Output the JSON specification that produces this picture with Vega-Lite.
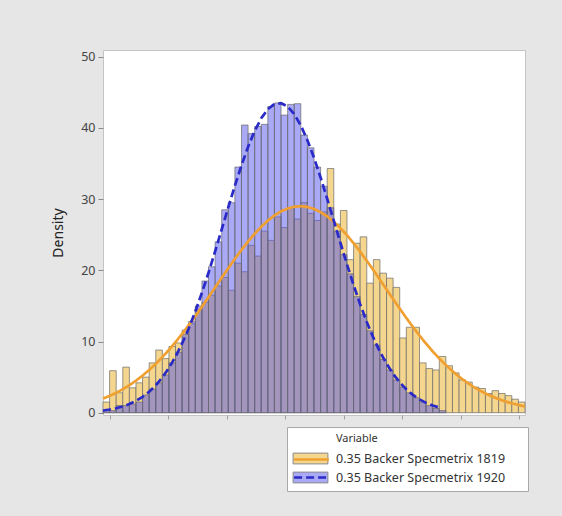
{
  "$schema": "https://vega.github.io/schema/vega-lite/v6.json",
  "autosize": {"type": "none"},
  "padding": {"left": 103, "top": 50, "right": 37, "bottom": 101},
  "width": 422,
  "height": 365,
  "background": "#e6e6e6",
  "config": {
    "view": {"fill": "white", "stroke": "#c4c4c4", "strokeWidth": 1},
    "font": "Noto Sans",
    "axis": {"grid": false}
  },
  "datasets": {
    "bars": [
      {"s": "0.35 Backer Specmetrix 1819", "lo": 0, "hi": 1, "h": 1.5},
      {"s": "0.35 Backer Specmetrix 1819", "lo": 1, "hi": 2, "h": 5.9},
      {"s": "0.35 Backer Specmetrix 1819", "lo": 2, "hi": 3, "h": 2.8},
      {"s": "0.35 Backer Specmetrix 1819", "lo": 3, "hi": 4, "h": 6.4},
      {"s": "0.35 Backer Specmetrix 1819", "lo": 4, "hi": 5, "h": 3.5},
      {"s": "0.35 Backer Specmetrix 1819", "lo": 5, "hi": 6, "h": 4.2},
      {"s": "0.35 Backer Specmetrix 1819", "lo": 6, "hi": 7, "h": 5.0},
      {"s": "0.35 Backer Specmetrix 1819", "lo": 7, "hi": 8, "h": 7.0},
      {"s": "0.35 Backer Specmetrix 1819", "lo": 8, "hi": 9, "h": 8.8},
      {"s": "0.35 Backer Specmetrix 1819", "lo": 9, "hi": 10, "h": 7.6},
      {"s": "0.35 Backer Specmetrix 1819", "lo": 10, "hi": 11, "h": 9.3},
      {"s": "0.35 Backer Specmetrix 1819", "lo": 11, "hi": 12, "h": 9.8},
      {"s": "0.35 Backer Specmetrix 1819", "lo": 12, "hi": 13, "h": 11.6},
      {"s": "0.35 Backer Specmetrix 1819", "lo": 13, "hi": 14, "h": 12.5},
      {"s": "0.35 Backer Specmetrix 1819", "lo": 14, "hi": 15, "h": 14.5},
      {"s": "0.35 Backer Specmetrix 1819", "lo": 15, "hi": 16, "h": 15.5},
      {"s": "0.35 Backer Specmetrix 1819", "lo": 16, "hi": 17, "h": 16.5},
      {"s": "0.35 Backer Specmetrix 1819", "lo": 17, "hi": 18, "h": 17.8},
      {"s": "0.35 Backer Specmetrix 1819", "lo": 18, "hi": 19, "h": 19.0},
      {"s": "0.35 Backer Specmetrix 1819", "lo": 19, "hi": 20, "h": 17.2},
      {"s": "0.35 Backer Specmetrix 1819", "lo": 20, "hi": 21, "h": 21.0},
      {"s": "0.35 Backer Specmetrix 1819", "lo": 21, "hi": 22, "h": 19.8},
      {"s": "0.35 Backer Specmetrix 1819", "lo": 22, "hi": 23, "h": 23.5},
      {"s": "0.35 Backer Specmetrix 1819", "lo": 23, "hi": 24, "h": 22.0},
      {"s": "0.35 Backer Specmetrix 1819", "lo": 24, "hi": 25, "h": 25.5},
      {"s": "0.35 Backer Specmetrix 1819", "lo": 25, "hi": 26, "h": 24.2},
      {"s": "0.35 Backer Specmetrix 1819", "lo": 26, "hi": 27, "h": 27.5},
      {"s": "0.35 Backer Specmetrix 1819", "lo": 27, "hi": 28, "h": 26.0},
      {"s": "0.35 Backer Specmetrix 1819", "lo": 28, "hi": 29, "h": 28.8},
      {"s": "0.35 Backer Specmetrix 1819", "lo": 29, "hi": 30, "h": 27.2},
      {"s": "0.35 Backer Specmetrix 1819", "lo": 30, "hi": 31, "h": 29.5},
      {"s": "0.35 Backer Specmetrix 1819", "lo": 31, "hi": 32, "h": 28.0},
      {"s": "0.35 Backer Specmetrix 1819", "lo": 32, "hi": 33, "h": 27.0},
      {"s": "0.35 Backer Specmetrix 1819", "lo": 33, "hi": 34, "h": 28.2},
      {"s": "0.35 Backer Specmetrix 1819", "lo": 34, "hi": 35, "h": 34.3},
      {"s": "0.35 Backer Specmetrix 1819", "lo": 35, "hi": 36, "h": 26.5},
      {"s": "0.35 Backer Specmetrix 1819", "lo": 36, "hi": 37, "h": 28.4},
      {"s": "0.35 Backer Specmetrix 1819", "lo": 37, "hi": 38, "h": 21.5},
      {"s": "0.35 Backer Specmetrix 1819", "lo": 38, "hi": 39, "h": 23.8},
      {"s": "0.35 Backer Specmetrix 1819", "lo": 39, "hi": 40, "h": 24.7},
      {"s": "0.35 Backer Specmetrix 1819", "lo": 40, "hi": 41, "h": 18.2},
      {"s": "0.35 Backer Specmetrix 1819", "lo": 41, "hi": 42, "h": 21.5},
      {"s": "0.35 Backer Specmetrix 1819", "lo": 42, "hi": 43, "h": 19.6},
      {"s": "0.35 Backer Specmetrix 1819", "lo": 43, "hi": 44, "h": 18.9},
      {"s": "0.35 Backer Specmetrix 1819", "lo": 44, "hi": 45, "h": 17.6},
      {"s": "0.35 Backer Specmetrix 1819", "lo": 45, "hi": 46, "h": 10.5},
      {"s": "0.35 Backer Specmetrix 1819", "lo": 46, "hi": 47, "h": 12.0},
      {"s": "0.35 Backer Specmetrix 1819", "lo": 47, "hi": 48, "h": 12.0},
      {"s": "0.35 Backer Specmetrix 1819", "lo": 48, "hi": 49, "h": 7.0},
      {"s": "0.35 Backer Specmetrix 1819", "lo": 49, "hi": 50, "h": 6.2},
      {"s": "0.35 Backer Specmetrix 1819", "lo": 50, "hi": 51, "h": 6.0},
      {"s": "0.35 Backer Specmetrix 1819", "lo": 51, "hi": 52, "h": 7.9},
      {"s": "0.35 Backer Specmetrix 1819", "lo": 52, "hi": 53, "h": 6.6},
      {"s": "0.35 Backer Specmetrix 1819", "lo": 53, "hi": 54, "h": 5.6},
      {"s": "0.35 Backer Specmetrix 1819", "lo": 54, "hi": 55, "h": 4.6},
      {"s": "0.35 Backer Specmetrix 1819", "lo": 55, "hi": 56, "h": 4.3},
      {"s": "0.35 Backer Specmetrix 1819", "lo": 56, "hi": 57, "h": 3.6},
      {"s": "0.35 Backer Specmetrix 1819", "lo": 57, "hi": 58, "h": 3.4},
      {"s": "0.35 Backer Specmetrix 1819", "lo": 58, "hi": 59, "h": 2.7},
      {"s": "0.35 Backer Specmetrix 1819", "lo": 59, "hi": 60, "h": 3.1},
      {"s": "0.35 Backer Specmetrix 1819", "lo": 60, "hi": 61, "h": 2.7},
      {"s": "0.35 Backer Specmetrix 1819", "lo": 61, "hi": 62, "h": 2.4},
      {"s": "0.35 Backer Specmetrix 1819", "lo": 62, "hi": 63, "h": 1.9},
      {"s": "0.35 Backer Specmetrix 1819", "lo": 63, "hi": 64, "h": 1.5},
      {"s": "0.35 Backer Specmetrix 1920", "lo": 0, "hi": 1, "h": 0.3},
      {"s": "0.35 Backer Specmetrix 1920", "lo": 1, "hi": 2, "h": 0.3},
      {"s": "0.35 Backer Specmetrix 1920", "lo": 2, "hi": 3, "h": 1.0},
      {"s": "0.35 Backer Specmetrix 1920", "lo": 3, "hi": 4, "h": 1.0},
      {"s": "0.35 Backer Specmetrix 1920", "lo": 4, "hi": 5, "h": 1.2},
      {"s": "0.35 Backer Specmetrix 1920", "lo": 5, "hi": 6, "h": 1.5},
      {"s": "0.35 Backer Specmetrix 1920", "lo": 6, "hi": 7, "h": 2.5},
      {"s": "0.35 Backer Specmetrix 1920", "lo": 7, "hi": 8, "h": 3.3},
      {"s": "0.35 Backer Specmetrix 1920", "lo": 8, "hi": 9, "h": 4.2},
      {"s": "0.35 Backer Specmetrix 1920", "lo": 9, "hi": 10, "h": 5.3},
      {"s": "0.35 Backer Specmetrix 1920", "lo": 10, "hi": 11, "h": 7.0},
      {"s": "0.35 Backer Specmetrix 1920", "lo": 11, "hi": 12, "h": 8.5},
      {"s": "0.35 Backer Specmetrix 1920", "lo": 12, "hi": 13, "h": 11.0},
      {"s": "0.35 Backer Specmetrix 1920", "lo": 13, "hi": 14, "h": 12.8},
      {"s": "0.35 Backer Specmetrix 1920", "lo": 14, "hi": 15, "h": 15.0},
      {"s": "0.35 Backer Specmetrix 1920", "lo": 15, "hi": 16, "h": 18.5},
      {"s": "0.35 Backer Specmetrix 1920", "lo": 16, "hi": 17, "h": 20.5},
      {"s": "0.35 Backer Specmetrix 1920", "lo": 17, "hi": 18, "h": 24.0},
      {"s": "0.35 Backer Specmetrix 1920", "lo": 18, "hi": 19, "h": 28.5},
      {"s": "0.35 Backer Specmetrix 1920", "lo": 19, "hi": 20, "h": 29.5},
      {"s": "0.35 Backer Specmetrix 1920", "lo": 20, "hi": 21, "h": 34.5},
      {"s": "0.35 Backer Specmetrix 1920", "lo": 21, "hi": 22, "h": 40.4},
      {"s": "0.35 Backer Specmetrix 1920", "lo": 22, "hi": 23, "h": 39.2},
      {"s": "0.35 Backer Specmetrix 1920", "lo": 23, "hi": 24, "h": 40.2},
      {"s": "0.35 Backer Specmetrix 1920", "lo": 24, "hi": 25, "h": 40.5},
      {"s": "0.35 Backer Specmetrix 1920", "lo": 25, "hi": 26, "h": 43.0},
      {"s": "0.35 Backer Specmetrix 1920", "lo": 26, "hi": 27, "h": 43.5},
      {"s": "0.35 Backer Specmetrix 1920", "lo": 27, "hi": 28, "h": 41.8},
      {"s": "0.35 Backer Specmetrix 1920", "lo": 28, "hi": 29, "h": 43.3},
      {"s": "0.35 Backer Specmetrix 1920", "lo": 29, "hi": 30, "h": 43.4},
      {"s": "0.35 Backer Specmetrix 1920", "lo": 30, "hi": 31, "h": 39.0},
      {"s": "0.35 Backer Specmetrix 1920", "lo": 31, "hi": 32, "h": 37.2},
      {"s": "0.35 Backer Specmetrix 1920", "lo": 32, "hi": 33, "h": 34.5},
      {"s": "0.35 Backer Specmetrix 1920", "lo": 33, "hi": 34, "h": 31.8},
      {"s": "0.35 Backer Specmetrix 1920", "lo": 34, "hi": 35, "h": 28.8},
      {"s": "0.35 Backer Specmetrix 1920", "lo": 35, "hi": 36, "h": 25.5},
      {"s": "0.35 Backer Specmetrix 1920", "lo": 36, "hi": 37, "h": 22.2},
      {"s": "0.35 Backer Specmetrix 1920", "lo": 37, "hi": 38, "h": 19.5},
      {"s": "0.35 Backer Specmetrix 1920", "lo": 38, "hi": 39, "h": 16.3},
      {"s": "0.35 Backer Specmetrix 1920", "lo": 39, "hi": 40, "h": 13.8},
      {"s": "0.35 Backer Specmetrix 1920", "lo": 40, "hi": 41, "h": 11.5},
      {"s": "0.35 Backer Specmetrix 1920", "lo": 41, "hi": 42, "h": 9.5},
      {"s": "0.35 Backer Specmetrix 1920", "lo": 42, "hi": 43, "h": 7.5},
      {"s": "0.35 Backer Specmetrix 1920", "lo": 43, "hi": 44, "h": 6.0},
      {"s": "0.35 Backer Specmetrix 1920", "lo": 44, "hi": 45, "h": 4.6},
      {"s": "0.35 Backer Specmetrix 1920", "lo": 45, "hi": 46, "h": 3.6},
      {"s": "0.35 Backer Specmetrix 1920", "lo": 46, "hi": 47, "h": 2.8},
      {"s": "0.35 Backer Specmetrix 1920", "lo": 47, "hi": 48, "h": 2.1},
      {"s": "0.35 Backer Specmetrix 1920", "lo": 48, "hi": 49, "h": 1.5},
      {"s": "0.35 Backer Specmetrix 1920", "lo": 49, "hi": 50, "h": 1.0},
      {"s": "0.35 Backer Specmetrix 1920", "lo": 50, "hi": 51, "h": 0.6},
      {"s": "0.35 Backer Specmetrix 1920", "lo": 51, "hi": 52, "h": 0.3}
    ],
    "curves": [
      {"s": "0.35 Backer Specmetrix 1819", "x": 0, "y": 1.98},
      {"s": "0.35 Backer Specmetrix 1819", "x": 1, "y": 2.36},
      {"s": "0.35 Backer Specmetrix 1819", "x": 2, "y": 2.80},
      {"s": "0.35 Backer Specmetrix 1819", "x": 3, "y": 3.30},
      {"s": "0.35 Backer Specmetrix 1819", "x": 4, "y": 3.86},
      {"s": "0.35 Backer Specmetrix 1819", "x": 5, "y": 4.50},
      {"s": "0.35 Backer Specmetrix 1819", "x": 6, "y": 5.21},
      {"s": "0.35 Backer Specmetrix 1819", "x": 7, "y": 6.00},
      {"s": "0.35 Backer Specmetrix 1819", "x": 8, "y": 6.86},
      {"s": "0.35 Backer Specmetrix 1819", "x": 9, "y": 7.81},
      {"s": "0.35 Backer Specmetrix 1819", "x": 10, "y": 8.82},
      {"s": "0.35 Backer Specmetrix 1819", "x": 11, "y": 9.92},
      {"s": "0.35 Backer Specmetrix 1819", "x": 12, "y": 11.07},
      {"s": "0.35 Backer Specmetrix 1819", "x": 13, "y": 12.30},
      {"s": "0.35 Backer Specmetrix 1819", "x": 14, "y": 13.56},
      {"s": "0.35 Backer Specmetrix 1819", "x": 15, "y": 14.88},
      {"s": "0.35 Backer Specmetrix 1819", "x": 16, "y": 16.22},
      {"s": "0.35 Backer Specmetrix 1819", "x": 17, "y": 17.59},
      {"s": "0.35 Backer Specmetrix 1819", "x": 18, "y": 18.96},
      {"s": "0.35 Backer Specmetrix 1819", "x": 19, "y": 20.29},
      {"s": "0.35 Backer Specmetrix 1819", "x": 20, "y": 21.61},
      {"s": "0.35 Backer Specmetrix 1819", "x": 21, "y": 22.86},
      {"s": "0.35 Backer Specmetrix 1819", "x": 22, "y": 24.05},
      {"s": "0.35 Backer Specmetrix 1819", "x": 23, "y": 25.13},
      {"s": "0.35 Backer Specmetrix 1819", "x": 24, "y": 26.11},
      {"s": "0.35 Backer Specmetrix 1819", "x": 25, "y": 26.98},
      {"s": "0.35 Backer Specmetrix 1819", "x": 26, "y": 27.70},
      {"s": "0.35 Backer Specmetrix 1819", "x": 27, "y": 28.28},
      {"s": "0.35 Backer Specmetrix 1819", "x": 28, "y": 28.68},
      {"s": "0.35 Backer Specmetrix 1819", "x": 29, "y": 28.93},
      {"s": "0.35 Backer Specmetrix 1819", "x": 30, "y": 29.00},
      {"s": "0.35 Backer Specmetrix 1819", "x": 31, "y": 28.90},
      {"s": "0.35 Backer Specmetrix 1819", "x": 32, "y": 28.62},
      {"s": "0.35 Backer Specmetrix 1819", "x": 33, "y": 28.17},
      {"s": "0.35 Backer Specmetrix 1819", "x": 34, "y": 27.57},
      {"s": "0.35 Backer Specmetrix 1819", "x": 35, "y": 26.82},
      {"s": "0.35 Backer Specmetrix 1819", "x": 36, "y": 25.93},
      {"s": "0.35 Backer Specmetrix 1819", "x": 37, "y": 24.93},
      {"s": "0.35 Backer Specmetrix 1819", "x": 38, "y": 23.81},
      {"s": "0.35 Backer Specmetrix 1819", "x": 39, "y": 22.61},
      {"s": "0.35 Backer Specmetrix 1819", "x": 40, "y": 21.35},
      {"s": "0.35 Backer Specmetrix 1819", "x": 41, "y": 20.03},
      {"s": "0.35 Backer Specmetrix 1819", "x": 42, "y": 18.68},
      {"s": "0.35 Backer Specmetrix 1819", "x": 43, "y": 17.32},
      {"s": "0.35 Backer Specmetrix 1819", "x": 44, "y": 15.96},
      {"s": "0.35 Backer Specmetrix 1819", "x": 45, "y": 14.62},
      {"s": "0.35 Backer Specmetrix 1819", "x": 46, "y": 13.31},
      {"s": "0.35 Backer Specmetrix 1819", "x": 47, "y": 12.05},
      {"s": "0.35 Backer Specmetrix 1819", "x": 48, "y": 10.84},
      {"s": "0.35 Backer Specmetrix 1819", "x": 49, "y": 9.69},
      {"s": "0.35 Backer Specmetrix 1819", "x": 50, "y": 8.61},
      {"s": "0.35 Backer Specmetrix 1819", "x": 51, "y": 7.61},
      {"s": "0.35 Backer Specmetrix 1819", "x": 52, "y": 6.69},
      {"s": "0.35 Backer Specmetrix 1819", "x": 53, "y": 5.84},
      {"s": "0.35 Backer Specmetrix 1819", "x": 54, "y": 5.06},
      {"s": "0.35 Backer Specmetrix 1819", "x": 55, "y": 4.37},
      {"s": "0.35 Backer Specmetrix 1819", "x": 56, "y": 3.74},
      {"s": "0.35 Backer Specmetrix 1819", "x": 57, "y": 3.19},
      {"s": "0.35 Backer Specmetrix 1819", "x": 58, "y": 2.71},
      {"s": "0.35 Backer Specmetrix 1819", "x": 59, "y": 2.28},
      {"s": "0.35 Backer Specmetrix 1819", "x": 60, "y": 1.91},
      {"s": "0.35 Backer Specmetrix 1819", "x": 61, "y": 1.59},
      {"s": "0.35 Backer Specmetrix 1819", "x": 62, "y": 1.31},
      {"s": "0.35 Backer Specmetrix 1819", "x": 63, "y": 1.08},
      {"s": "0.35 Backer Specmetrix 1819", "x": 64, "y": 0.88},
      {"s": "0.35 Backer Specmetrix 1920", "x": 0, "y": 0.31},
      {"s": "0.35 Backer Specmetrix 1920", "x": 1, "y": 0.45},
      {"s": "0.35 Backer Specmetrix 1920", "x": 2, "y": 0.63},
      {"s": "0.35 Backer Specmetrix 1920", "x": 3, "y": 0.88},
      {"s": "0.35 Backer Specmetrix 1920", "x": 4, "y": 1.22},
      {"s": "0.35 Backer Specmetrix 1920", "x": 5, "y": 1.66},
      {"s": "0.35 Backer Specmetrix 1920", "x": 6, "y": 2.23},
      {"s": "0.35 Backer Specmetrix 1920", "x": 7, "y": 2.95},
      {"s": "0.35 Backer Specmetrix 1920", "x": 8, "y": 3.84},
      {"s": "0.35 Backer Specmetrix 1920", "x": 9, "y": 4.95},
      {"s": "0.35 Backer Specmetrix 1920", "x": 10, "y": 6.28},
      {"s": "0.35 Backer Specmetrix 1920", "x": 11, "y": 7.87},
      {"s": "0.35 Backer Specmetrix 1920", "x": 12, "y": 9.73},
      {"s": "0.35 Backer Specmetrix 1920", "x": 13, "y": 11.83},
      {"s": "0.35 Backer Specmetrix 1920", "x": 14, "y": 14.21},
      {"s": "0.35 Backer Specmetrix 1920", "x": 15, "y": 16.84},
      {"s": "0.35 Backer Specmetrix 1920", "x": 16, "y": 19.66},
      {"s": "0.35 Backer Specmetrix 1920", "x": 17, "y": 22.64},
      {"s": "0.35 Backer Specmetrix 1920", "x": 18, "y": 25.73},
      {"s": "0.35 Backer Specmetrix 1920", "x": 19, "y": 28.84},
      {"s": "0.35 Backer Specmetrix 1920", "x": 20, "y": 31.87},
      {"s": "0.35 Backer Specmetrix 1920", "x": 21, "y": 34.73},
      {"s": "0.35 Backer Specmetrix 1920", "x": 22, "y": 37.33},
      {"s": "0.35 Backer Specmetrix 1920", "x": 23, "y": 39.56},
      {"s": "0.35 Backer Specmetrix 1920", "x": 24, "y": 41.35},
      {"s": "0.35 Backer Specmetrix 1920", "x": 25, "y": 42.64},
      {"s": "0.35 Backer Specmetrix 1920", "x": 26, "y": 43.35},
      {"s": "0.35 Backer Specmetrix 1920", "x": 27, "y": 43.47},
      {"s": "0.35 Backer Specmetrix 1920", "x": 28, "y": 43.00},
      {"s": "0.35 Backer Specmetrix 1920", "x": 29, "y": 41.93},
      {"s": "0.35 Backer Specmetrix 1920", "x": 30, "y": 40.34},
      {"s": "0.35 Backer Specmetrix 1920", "x": 31, "y": 38.27},
      {"s": "0.35 Backer Specmetrix 1920", "x": 32, "y": 35.80},
      {"s": "0.35 Backer Specmetrix 1920", "x": 33, "y": 33.03},
      {"s": "0.35 Backer Specmetrix 1920", "x": 34, "y": 30.05},
      {"s": "0.35 Backer Specmetrix 1920", "x": 35, "y": 26.97},
      {"s": "0.35 Backer Specmetrix 1920", "x": 36, "y": 23.87},
      {"s": "0.35 Backer Specmetrix 1920", "x": 37, "y": 20.84},
      {"s": "0.35 Backer Specmetrix 1920", "x": 38, "y": 17.94},
      {"s": "0.35 Backer Specmetrix 1920", "x": 39, "y": 15.23},
      {"s": "0.35 Backer Specmetrix 1920", "x": 40, "y": 12.75},
      {"s": "0.35 Backer Specmetrix 1920", "x": 41, "y": 10.54},
      {"s": "0.35 Backer Specmetrix 1920", "x": 42, "y": 8.57},
      {"s": "0.35 Backer Specmetrix 1920", "x": 43, "y": 6.89},
      {"s": "0.35 Backer Specmetrix 1920", "x": 44, "y": 5.45},
      {"s": "0.35 Backer Specmetrix 1920", "x": 45, "y": 4.26},
      {"s": "0.35 Backer Specmetrix 1920", "x": 46, "y": 3.28},
      {"s": "0.35 Backer Specmetrix 1920", "x": 47, "y": 2.49},
      {"s": "0.35 Backer Specmetrix 1920", "x": 48, "y": 1.87},
      {"s": "0.35 Backer Specmetrix 1920", "x": 49, "y": 1.38},
      {"s": "0.35 Backer Specmetrix 1920", "x": 50, "y": 1.01},
      {"s": "0.35 Backer Specmetrix 1920", "x": 51, "y": 0.72}
    ]
  },
  "layer": [
    {
      "data": {"name": "bars"},
      "mark": {"type": "bar", "stroke": "#6a6a6a", "strokeWidth": 0.7},
      "encoding": {
        "x": {
          "field": "lo",
          "type": "quantitative",
          "scale": {"domain": [0, 64], "nice": false, "zero": false},
          "axis": {
            "values": [1.06, 9.92, 18.79, 27.65, 36.5, 45.37, 54.23, 63.09],
            "labels": false,
            "title": null,
            "domain": false,
            "tickColor": "#a0a0a0",
            "tickSize": 4
          }
        },
        "x2": {"field": "hi"},
        "y": {
          "field": "h",
          "type": "quantitative",
          "stack": null,
          "scale": {"domain": [-0.32, 50.94], "nice": false, "zero": false},
          "axis": {
            "values": [0, 10, 20, 30, 40, 50],
            "title": "Density",
            "titleFontSize": 14,
            "titleFontWeight": "normal",
            "titleColor": "#222222",
            "titlePadding": 15,
            "labelFontSize": 12.5,
            "labelColor": "#444444",
            "labelPadding": 3,
            "tickColor": "#8a8a8a",
            "tickSize": 5,
            "domain": false
          }
        },
        "y2": {"datum": 0},
        "fill": {
          "field": "s",
          "type": "nominal",
          "scale": {"range": ["#f4d68f", "rgba(83,83,235,0.5)"]},
          "legend": {
            "title": "\u200b\u00a0\u00a0\u00a0\u00a0\u00a0\u00a0\u00a0\u00a0\u00a0\u00a0\u00a0\u00a0\u00a0\u00a0\u00a0Variable",
            "orient": "none",
            "legendX": 184,
            "legendY": 377,
            "fillColor": "white",
            "strokeColor": "#a8a8a8",
            "padding": 6,
            "symbolType": "M-2.9,-0.9H2.9V0.9H-2.9Z",
            "symbolSize": 144,
            "symbolStrokeColor": "#8a8a8a",
            "symbolStrokeWidth": 1,
            "symbolOffset": 11,
            "labelOffset": 19,
            "labelFontSize": 12.5,
            "labelColor": "#333333",
            "labelLimit": 400,
            "labelExpr": "datum.label + '\u00a0\u00a0\u00a0\u00a0\u00a0\u200b'",
            "titleFontSize": 11,
            "titleFontWeight": "normal",
            "titleColor": "#333333",
            "titlePadding": 8,
            "rowPadding": 4
          }
        }
      }
    },
    {
      "data": {"name": "curves"},
      "mark": {"type": "line", "strokeWidth": 2.7},
      "encoding": {
        "x": {"field": "x", "type": "quantitative"},
        "y": {"field": "y", "type": "quantitative"},
        "stroke": {
          "field": "s",
          "type": "nominal",
          "scale": {"range": ["#f0a030", "#2a2ac8"]},
          "legend": {
            "title": "\u00a0",
            "orient": "none",
            "legendX": 184,
            "legendY": 377,
            "padding": 6,
            "symbolType": "M-2.9,0H2.9",
            "symbolSize": 144,
            "symbolStrokeWidth": 2.5,
            "symbolOffset": 11,
            "labelOffset": 19,
            "labelFontSize": 12.5,
            "labelExpr": "'\u00a0'",
            "labelLimit": 400,
            "titleFontSize": 11,
            "titleFontWeight": "normal",
            "titlePadding": 8,
            "rowPadding": 4
          }
        },
        "strokeDash": {
          "field": "s",
          "type": "nominal",
          "scale": {"range": [[1, 0], [8, 4]]},
          "legend": {
            "title": "\u00a0",
            "orient": "none",
            "legendX": 184,
            "legendY": 377,
            "padding": 6,
            "symbolType": "M-2.9,0H2.9",
            "symbolSize": 144,
            "symbolStrokeWidth": 2.5,
            "symbolOffset": 11,
            "labelOffset": 19,
            "labelFontSize": 12.5,
            "labelExpr": "'\u00a0'",
            "labelLimit": 400,
            "titleFontSize": 11,
            "titleFontWeight": "normal",
            "titlePadding": 8,
            "rowPadding": 4
          }
        }
      }
    }
  ]
}
